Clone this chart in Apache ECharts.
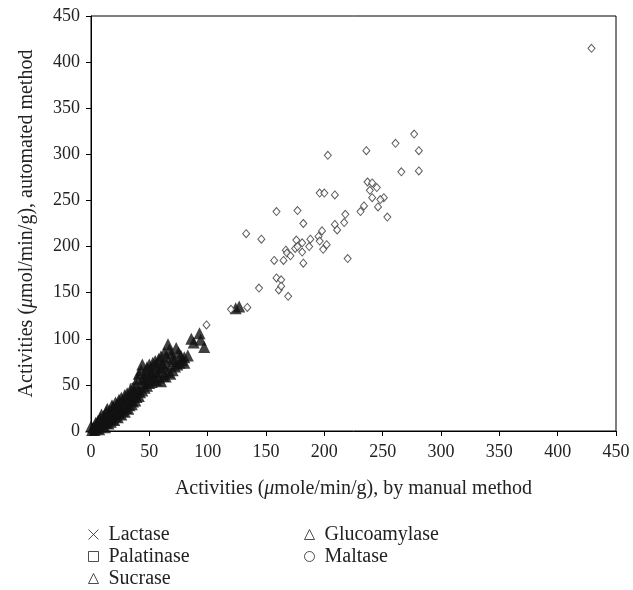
<!DOCTYPE html>
<html>
<head>
<meta charset="utf-8">
<script src="https://cdn.jsdelivr.net/npm/echarts@6/dist/echarts.min.js"></script>
<style>
  html, body { margin: 0; padding: 0; background: #fff; }
  #chart { width: 633px; height: 590px; }
</style>
</head>
<body>
<div id="chart"></div>
<script>
var chart = echarts.init(document.getElementById('chart'));

// valores: [manual, automatizado]
var lactase = [[3, 3], [6, 6], [9, 10], [12, 12], [15, 17], [18, 20], [22, 23], [25, 27], [28, 30], [31, 33], [20, 28], [26, 33]];
var palatinase = [[5, 4], [8, 9], [11, 11], [14, 16], [17, 17], [20, 22], [24, 26], [27, 29], [33, 36], [38, 46], [40, 55], [36, 48]];
var sucrase = [
  [0, 5], [2, 4], [4, 9], [6, 11], [8, 14], [9, 18], [11, 16], [13, 21], [14, 24], [16, 22], [18, 28],
  [19, 26], [21, 31], [23, 29], [24, 34], [26, 36], [28, 33], [29, 39], [31, 41], [33, 38], [34, 45],
  [36, 47], [37, 43], [39, 50], [40, 56], [41, 62], [43, 66], [44, 72], [45, 58], [47, 63], [48, 69],
  [50, 72], [51, 66], [53, 74], [55, 76], [56, 70], [58, 78], [60, 81], [61, 74], [63, 85], [65, 80],
  [66, 94], [67, 88], [69, 84], [71, 76], [73, 90], [75, 85], [77, 82], [80, 74], [86, 100], [88, 96],
  [93, 106], [94, 99], [97, 91], [124, 133], [127, 135]
];
var glucoamylase = [
  [1, 1], [3, 1], [5, 3], [7, 2], [8, 5], [10, 6], [12, 4], [13, 9], [15, 8], [17, 10], [18, 13], [20, 12],
  [21, 16], [23, 15], [24, 19], [26, 18], [27, 22], [29, 21], [30, 25], [32, 24], [33, 28], [35, 29],
  [36, 32], [38, 33], [39, 37], [41, 38], [42, 42], [44, 44], [46, 47], [48, 49], [50, 52], [52, 53],
  [54, 56], [56, 55], [58, 58], [60, 54], [62, 60], [64, 59], [66, 64], [68, 62], [70, 66], [72, 70],
  [74, 72], [76, 74], [78, 77], [80, 80], [83, 82],
  [4, 4], [9, 9], [11, 11], [14, 13], [16, 16], [19, 20], [22, 22], [25, 26], [28, 28], [31, 33],
  [34, 35], [38, 40], [40, 44], [45, 52], [46, 56], [50, 60], [52, 62], [55, 64], [58, 64], [60, 68],
  [62, 70], [65, 72], [70, 78]
];
var maltase = [
  [429, 415], [203, 299], [196, 258], [200, 258], [209, 256], [159, 238], [177, 239], [182, 225],
  [218, 235], [209, 224], [217, 226], [211, 218], [133, 214], [146, 208], [198, 217], [195, 211],
  [176, 207], [181, 204], [188, 208], [175, 198], [177, 200], [187, 200], [196, 206], [202, 202],
  [199, 197], [167, 196], [168, 193], [181, 194], [171, 190], [157, 185], [165, 185], [182, 182],
  [220, 187], [159, 166], [163, 164], [161, 153], [163, 157], [169, 146], [144, 155], [120, 132],
  [134, 134], [99, 115], [277, 322], [261, 312], [236, 304], [281, 304], [266, 281], [281, 282],
  [237, 270], [241, 269], [245, 264], [239, 261], [241, 253], [251, 253], [248, 251], [246, 243],
  [234, 244], [231, 238], [254, 232]
];

var fuente = 'Liberation Serif';
var cruz = 'path://M0,0L10,10M10,0L0,10';
var abierto = { color: '#fff', borderColor: '#222', borderWidth: 1 };
var textoLeyenda = { fontFamily: fuente, fontSize: 20, color: '#222', lineHeight: 21, padding: [0, 0, 0, 5] };

var option = {
  animation: false,
  textStyle: { fontFamily: fuente },
  grid: { left: 91, right: 17, top: 16, bottom: 159, show: true, borderColor: '#000', borderWidth: 1 },
  xAxis: {
    type: 'value', min: 0, max: 450, interval: 50,
    name: '{a|Activities (}{i|μ}{a|mole/min/g), by manual method}',
    nameLocation: 'middle', nameGap: 48,
    nameTextStyle: { rich: { a: { fontFamily: fuente, fontSize: 20, color: '#222' }, i: { fontFamily: fuente, fontSize: 20, fontStyle: 'italic', color: '#222' } } },
    axisLine: { lineStyle: { color: '#000' } },
    axisTick: { length: 5, lineStyle: { color: '#000' } },
    axisLabel: { fontFamily: fuente, fontSize: 18, color: '#222', margin: 12 },
    splitLine: { show: false }
  },
  yAxis: {
    type: 'value', min: 0, max: 450, interval: 50,
    name: '{a|Activities (}{i|μ}{a|mol/min/g), automated method}',
    nameLocation: 'middle', nameGap: 54,
    nameTextStyle: { rich: { a: { fontFamily: fuente, fontSize: 20, color: '#222' }, i: { fontFamily: fuente, fontSize: 20, fontStyle: 'italic', color: '#222' } } },
    axisLine: { show: true, lineStyle: { color: '#000' } },
    axisTick: { show: true, length: 5, lineStyle: { color: '#000' } },
    axisLabel: { fontFamily: fuente, fontSize: 18, color: '#222', margin: 11 },
    splitLine: { show: false }
  },
  legend: [
    {
      orient: 'vertical', left: 86, top: 524, height: 80, padding: 0,
      itemWidth: 10, itemHeight: 10, itemGap: 1, textStyle: textoLeyenda,
      data: [
        { name: 'Lactase', icon: cruz, itemStyle: { color: 'none', borderColor: '#222', borderWidth: 1 } },
        { name: 'Palatinase', icon: 'rect', itemStyle: abierto },
        { name: 'Sucrase', icon: 'triangle', itemStyle: abierto }
      ]
    },
    {
      orient: 'vertical', left: 304, top: 524, height: 80, padding: 0,
      itemWidth: 10, itemHeight: 10, itemGap: 1, textStyle: textoLeyenda,
      data: [
        { name: 'Glucoamylase', icon: 'triangle', itemStyle: abierto },
        { name: 'Maltase', icon: 'circle', itemStyle: abierto }
      ]
    }
  ],
  series: [
    { name: 'Lactase', type: 'scatter', data: lactase, symbol: cruz, symbolSize: 6,
      itemStyle: { color: 'none', borderColor: '#555', borderWidth: 1 } },
    { name: 'Palatinase', type: 'scatter', data: palatinase, symbol: 'rect', symbolSize: 6,
      itemStyle: { color: '#fff', borderColor: '#555', borderWidth: 1 } },
    { name: 'Glucoamylase', type: 'scatter', data: glucoamylase, symbol: 'triangle', symbolSize: 12,
      itemStyle: { color: '#111' } },
    { name: 'Sucrase', type: 'scatter', data: sucrase, symbol: 'triangle', symbolSize: 12,
      itemStyle: { color: '#111' } },
    { name: 'Maltase', type: 'scatter', data: maltase, symbol: 'diamond', symbolSize: [7, 8],
      itemStyle: { color: '#fff', borderColor: '#333', borderWidth: 1 } }
  ]
};

chart.setOption(option);
</script>
</body>
</html>
